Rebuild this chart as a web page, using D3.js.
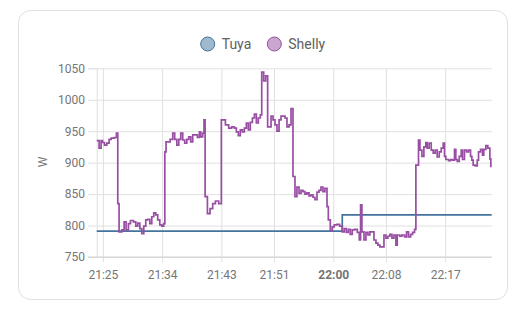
<!DOCTYPE html>
<html>
<head>
<meta charset="utf-8">
<script src="https://cdn.jsdelivr.net/npm/d3@7"></script>
<style>
  body { margin: 0; background: #fff; font-family: Roboto, "Noto Sans", sans-serif; }
</style>
</head>
<body>
<div id="chart"></div>
<script>
// power readings (W), step series
var tuyaTimes = ["21:24:04", "22:01:22", "22:24:04"]
var tuyaValues = [791, 817, 817]

var shellyTimes = [
  "21:24:04","21:24:26","21:24:44","21:24:57","21:25:15","21:25:36","21:25:57","21:26:16","21:26:46","21:27:04",
  "21:27:16","21:27:28","21:27:53","21:28:14","21:28:32","21:28:53","21:29:12","21:29:39","21:30:00","21:30:18",
  "21:30:37","21:30:55","21:31:13","21:31:31","21:31:49","21:32:08","21:32:26","21:32:44","21:33:02","21:33:20",
  "21:33:39","21:33:57","21:34:15","21:34:25","21:34:36","21:35:13","21:35:37","21:35:55","21:36:14","21:36:32",
  "21:36:50","21:37:08","21:37:26","21:37:45","21:38:03","21:38:21","21:38:39","21:39:22","21:39:40","21:39:52",
  "21:40:10","21:40:22","21:40:32","21:40:53","21:41:17","21:41:41","21:42:06","21:42:36","21:43:00","21:43:37",
  "21:44:07","21:44:34","21:44:59","21:45:17","21:45:35","21:45:53","21:46:12","21:46:30","21:46:48","21:47:06",
  "21:47:24","21:47:43","21:48:01","21:48:19","21:48:37","21:48:55","21:49:08","21:49:26","21:49:44","21:50:02",
  "21:50:33","21:50:51","21:51:09","21:51:27","21:51:46","21:52:04","21:52:40","21:52:58","21:53:17","21:53:35",
  "21:53:53","21:54:11","21:54:29","21:54:48","21:55:06","21:55:24","21:55:42","21:56:00","21:56:19","21:56:37",
  "21:56:55","21:57:13","21:57:32","21:57:50","21:58:08","21:58:26","21:58:44","21:59:03","21:59:15","21:59:33",
  "21:59:51","22:00:09","22:00:34","22:00:58","22:01:22","22:01:40","22:01:59","22:02:17","22:02:35","22:02:53",
  "22:03:15","22:03:39","22:03:57","22:04:09","22:04:21","22:04:40","22:04:58","22:05:16","22:05:34","22:06:11",
  "22:06:29","22:06:47","22:07:05","22:07:42","22:08:00","22:08:18","22:08:36","22:08:55","22:09:13","22:09:31",
  "22:09:43","22:10:07","22:10:26","22:10:50","22:11:08","22:11:26","22:11:45","22:12:03","22:12:21","22:12:33",
  "22:12:57","22:13:10","22:13:28","22:13:46","22:14:04","22:14:16","22:14:34","22:14:53","22:15:11","22:15:29",
  "22:15:47","22:16:06","22:16:24","22:16:42","22:16:54","22:17:06","22:17:31","22:17:49","22:18:07","22:18:25",
  "22:18:37","22:18:50","22:19:08","22:19:26","22:19:38","22:19:56","22:20:15","22:20:33","22:20:51","22:21:03",
  "22:21:15","22:21:34","22:21:52","22:22:04","22:22:22","22:22:40","22:22:52","22:23:11","22:23:29","22:23:47",
  "22:23:56","22:24:04"
]
var shellyValues = [
  935,923,935,932,928,931,937,939,940,947,
  835,790,793,806,793,803,808,806,799,804,
  795,787,799,809,810,803,814,820,817,809,
  801,799,803,917,933,937,947,937,928,937,
  947,936,931,937,941,933,944,940,949,941,
  947,968,846,819,827,835,839,835,968,960,
  955,957,955,949,943,952,949,955,963,952,
  964,971,977,963,971,976,1044,1030,1038,957,
  974,968,960,950,968,974,971,957,960,986,
  878,846,861,851,856,854,850,852,847,849,
  845,841,853,856,861,854,859,830,809,792,
  798,801,802,799,790,795,789,794,786,793,
  794,789,777,833,790,777,789,785,790,777,
  772,769,766,785,780,783,786,780,785,769,
  785,783,785,782,790,782,786,789,794,896,
  936,920,910,925,932,923,931,920,915,920,
  909,917,923,931,910,905,903,905,904,921,
  905,902,910,920,905,920,917,920,910,904,
  896,895,904,917,921,912,921,927,923,906,
  894,894
]

var yTicks = [750, 800, 850, 900, 950, 1000, 1050]
var xTickLabels = ["21:25", "21:34", "21:43", "21:51", "22:00", "22:08", "22:17"]
var timeDomain = ["21:24:04", "22:24:04"]

var series = [
  { name: "Tuya", color: "#44739e", times: tuyaTimes, values: tuyaValues },
  { name: "Shelly", color: "#984ea3", times: shellyTimes, values: shellyValues }
]

var parseTime = d3.timeParse("%H:%M:%S")

var W = 516, H = 314
var plot = { left: 96.7, right: 491.7, top: 68.3, bottom: 257 }

var svg = d3.select("#chart").append("svg")
  .attr("width", W)
  .attr("height", H)
  .style("display", "block")

// card
svg.append("rect")
  .attr("x", 18.5).attr("y", 10.5)
  .attr("width", 489).attr("height", 289)
  .attr("rx", 12)
  .attr("fill", "#fff")
  .attr("stroke", "#e0e0e0")

var x = d3.scaleTime()
  .domain(timeDomain.map(parseTime))
  .range([plot.left, plot.right])

var y = d3.scaleLinear()
  .domain([750, 1050])
  .range([plot.bottom, plot.top])

// y grid + labels
var yAxis = svg.append("g")
  .attr("transform", "translate(" + plot.left + ",0)")
  .call(d3.axisLeft(y).tickValues(yTicks).tickFormat(d3.format("d")).tickSize(8.7).tickPadding(3))
yAxis.select(".domain").attr("stroke", "#e0e0e0")
yAxis.selectAll(".tick line").attr("stroke", "#e0e0e0")
yAxis.selectAll(".tick").append("line")
  .attr("x1", 0).attr("x2", plot.right - plot.left)
  .attr("stroke", "#e0e0e0")
yAxis.selectAll("text")
  .attr("fill", "#757575")
  .style("font-size", "12px")
  .style("font-family", "Roboto")

// x grid + labels
var xAxis = svg.append("g")
  .attr("transform", "translate(0," + plot.bottom + ")")
  .call(d3.axisBottom(x)
    .tickValues(xTickLabels.map(function (t) { return parseTime(t + ":00") }))
    .tickFormat(d3.timeFormat("%H:%M"))
    .tickSize(5).tickPadding(8))
xAxis.select(".domain").remove()
xAxis.selectAll(".tick line").attr("stroke", "#e0e0e0")
xAxis.selectAll(".tick").append("line")
  .attr("y1", 0).attr("y2", plot.top - plot.bottom)
  .attr("stroke", "#e0e0e0")
xAxis.selectAll("text")
  .attr("fill", "#757575")
  .style("font-size", "12px")
  .style("font-family", "Roboto")
  .style("font-weight", function (d) { return d.getMinutes() == 0 ? "bold" : "normal" })

// axis line at bottom
svg.append("line")
  .attr("x1", plot.left - 8.7).attr("x2", plot.right)
  .attr("y1", plot.bottom).attr("y2", plot.bottom)
  .attr("stroke", "#d0d0d0")

// unit label
svg.append("text")
  .attr("transform", "translate(47,162) rotate(-90)")
  .attr("text-anchor", "middle")
  .attr("fill", "#757575")
  .style("font-size", "12px")
  .text("W")

var line = d3.line()
  .curve(d3.curveStepAfter)
  .x(function (d) { return x(d.t) })
  .y(function (d) { return y(d.v) })

series.forEach(function (s) {
  var pts = s.times.map(function (t, i) { return { t: parseTime(t), v: s.values[i] } })
  svg.append("path")
    .datum(pts)
    .attr("fill", "none")
    .attr("stroke", s.color)
    .attr("stroke-width", 1.7)
    .attr("d", line)
})

// legend
var legend = svg.append("g")
var lx = [207.7, 274.3]
series.forEach(function (s, i) {
  legend.append("circle")
    .attr("cx", lx[i]).attr("cy", 44)
    .attr("r", 7)
    .attr("fill", s.color).attr("fill-opacity", 0.5)
    .attr("stroke", s.color).attr("stroke-width", 1)
  legend.append("text")
    .attr("x", lx[i] + 14).attr("y", 49)
    .attr("fill", "#616161")
    .style("font-size", "14px")
    .text(s.name)
})
</script>
</body>
</html>
